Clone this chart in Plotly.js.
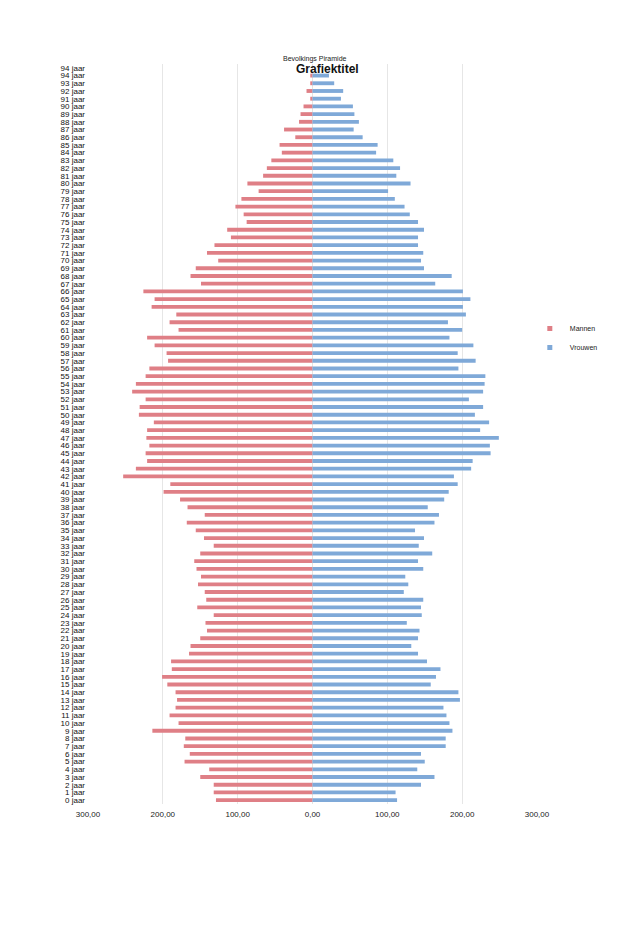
<!DOCTYPE html>
<html>
<head>
<meta charset="utf-8">
<script src="https://cdn.plot.ly/plotly-3.0.1.min.js"></script>
<style>html,body{margin:0;padding:0;background:#fff;}#chart{width:618px;height:928px;}</style>
</head>
<body>
<div id="chart"></div>
<script>
// Age labels from 0 jaar upwards (the top row in the source is labelled "94 jaar" again and is empty)
const ageLabels = [
  "0 jaar","1 jaar","2 jaar","3 jaar","4 jaar","5 jaar","6 jaar","7 jaar","8 jaar","9 jaar",
  "10 jaar","11 jaar","12 jaar","13 jaar","14 jaar","15 jaar","16 jaar","17 jaar","18 jaar","19 jaar",
  "20 jaar","21 jaar","22 jaar","23 jaar","24 jaar","25 jaar","26 jaar","27 jaar","28 jaar","29 jaar",
  "30 jaar","31 jaar","32 jaar","33 jaar","34 jaar","35 jaar","36 jaar","37 jaar","38 jaar","39 jaar",
  "40 jaar","41 jaar","42 jaar","43 jaar","44 jaar","45 jaar","46 jaar","47 jaar","48 jaar","49 jaar",
  "50 jaar","51 jaar","52 jaar","53 jaar","54 jaar","55 jaar","56 jaar","57 jaar","58 jaar","59 jaar",
  "60 jaar","61 jaar","62 jaar","63 jaar","64 jaar","65 jaar","66 jaar","67 jaar","68 jaar","69 jaar",
  "70 jaar","71 jaar","72 jaar","73 jaar","74 jaar","75 jaar","76 jaar","77 jaar","78 jaar","79 jaar",
  "80 jaar","81 jaar","82 jaar","83 jaar","84 jaar","85 jaar","86 jaar","87 jaar","88 jaar","89 jaar",
  "90 jaar","91 jaar","92 jaar","93 jaar","94 jaar","94 jaar"
];

// Mannen (men), per age 0..94, plus empty top row
const mannen = [
  129,132,132,150,138,171,164,172,170,214,
  179,191,183,181,183,194,201,188,189,165,
  163,150,141,143,132,154,142,144,153,149,
  155,158,150,132,145,156,168,144,167,177,
  199,190,253,236,221,223,218,222,221,212,
  232,231,223,241,236,223,218,193,195,211,
  221,179,191,182,215,211,226,149,163,156,
  126,141,131,109,114,88,92,103,95,72,
  87,66,61,55,41,44,23,38,18,16,
  12,3,8,3,3,null
];

// Vrouwen (women), per age 0..94, plus empty top row
const vrouwen = [
  113,111,145,163,140,150,145,178,178,187,
  183,179,175,197,195,158,165,171,153,141,
  132,141,143,126,146,145,148,122,128,124,
  148,141,160,142,149,137,163,169,154,176,
  182,194,189,212,214,238,237,249,224,236,
  217,228,209,228,230,231,195,218,194,215,
  183,200,181,205,201,211,201,164,186,149,
  145,148,141,141,149,141,130,123,110,101,
  131,112,117,108,85,87,67,55,62,56,
  54,38,41,29,22,null
];

const seriesNames = ["Mannen", "Vrouwen"];
const seriesColors = ["#df7f86", "#7fa9d8"];

const xTickVals = [-300,-200,-100,0,100,200,300];
const xTickText = ["300,00","200,00","100,00","0,00","100,00","200,00","300,00"];

const yPos = ageLabels.map((_, i) => i);

const traces = [
  {
    type: "bar", orientation: "h", name: seriesNames[0], showlegend: false,
    y: yPos, x: mannen.map(v => v === null ? null : -v),
    marker: {color: seriesColors[0], line: {width: 0}},
    hoverinfo: "skip"
  },
  {
    type: "bar", orientation: "h", name: seriesNames[1], showlegend: false,
    y: yPos, x: vrouwen,
    marker: {color: seriesColors[1], line: {width: 0}},
    hoverinfo: "skip"
  },
  // legend entries with small square keys, as in the source
  {
    type: "scatter", mode: "markers", name: seriesNames[0], x: [null], y: [null],
    marker: {symbol: "square", size: 5, color: seriesColors[0]}, hoverinfo: "skip"
  },
  {
    type: "scatter", mode: "markers", name: seriesNames[1], x: [null], y: [null],
    marker: {symbol: "square", size: 5, color: seriesColors[1]}, hoverinfo: "skip"
  }
];

const layout = {
  width: 618, height: 928,
  margin: {l: 88, r: 81, t: 64, b: 124, pad: 0},
  paper_bgcolor: "#ffffff", plot_bgcolor: "#ffffff",
  barmode: "overlay", bargap: 0.5,
  font: {family: "Liberation Sans, Arial, sans-serif", size: 8, color: "#222"},
  showlegend: true,
  legend: {
    x: 0.984, y: 0.662, xanchor: "left", yanchor: "top",
    font: {size: 7, color: "#222"}, traceorder: "normal",
    bgcolor: "rgba(0,0,0,0)", itemwidth: 30, tracegroupgap: 0
  },
  xaxis: {
    range: [-300, 300], tickvals: xTickVals, ticktext: xTickText,
    showgrid: true, gridcolor: "#e6e6e6", gridwidth: 1,
    zeroline: true, zerolinecolor: "#e3e3e3", zerolinewidth: 1,
    showline: false, ticks: "", ticklabelstandoff: 4,
    tickfont: {size: 8, color: "#222"}
  },
  yaxis: {
    range: [-0.5, 95.5], tickvals: yPos, ticktext: ageLabels,
    showgrid: false, zeroline: false, showline: false, ticks: "",
    ticklabelstandoff: 2,
    tickfont: {size: 8, color: "#111", family: "Liberation Sans, Arial, sans-serif"}
  },
  annotations: [
    {text: "Bevolkings Piramide", xref: "paper", yref: "paper",
     x: 0.506, y: 1.007, xanchor: "center", yanchor: "middle", showarrow: false,
     font: {size: 7, color: "#222"}},
    {text: "<b>Grafiektitel</b>", xref: "paper", yref: "paper",
     x: 0.533, y: 0.9935, xanchor: "center", yanchor: "middle", showarrow: false,
     font: {size: 12, color: "#111"}}
  ]
};

Plotly.newPlot("chart", traces, layout, {staticPlot: true, displayModeBar: false});
</script>
</body>
</html>
